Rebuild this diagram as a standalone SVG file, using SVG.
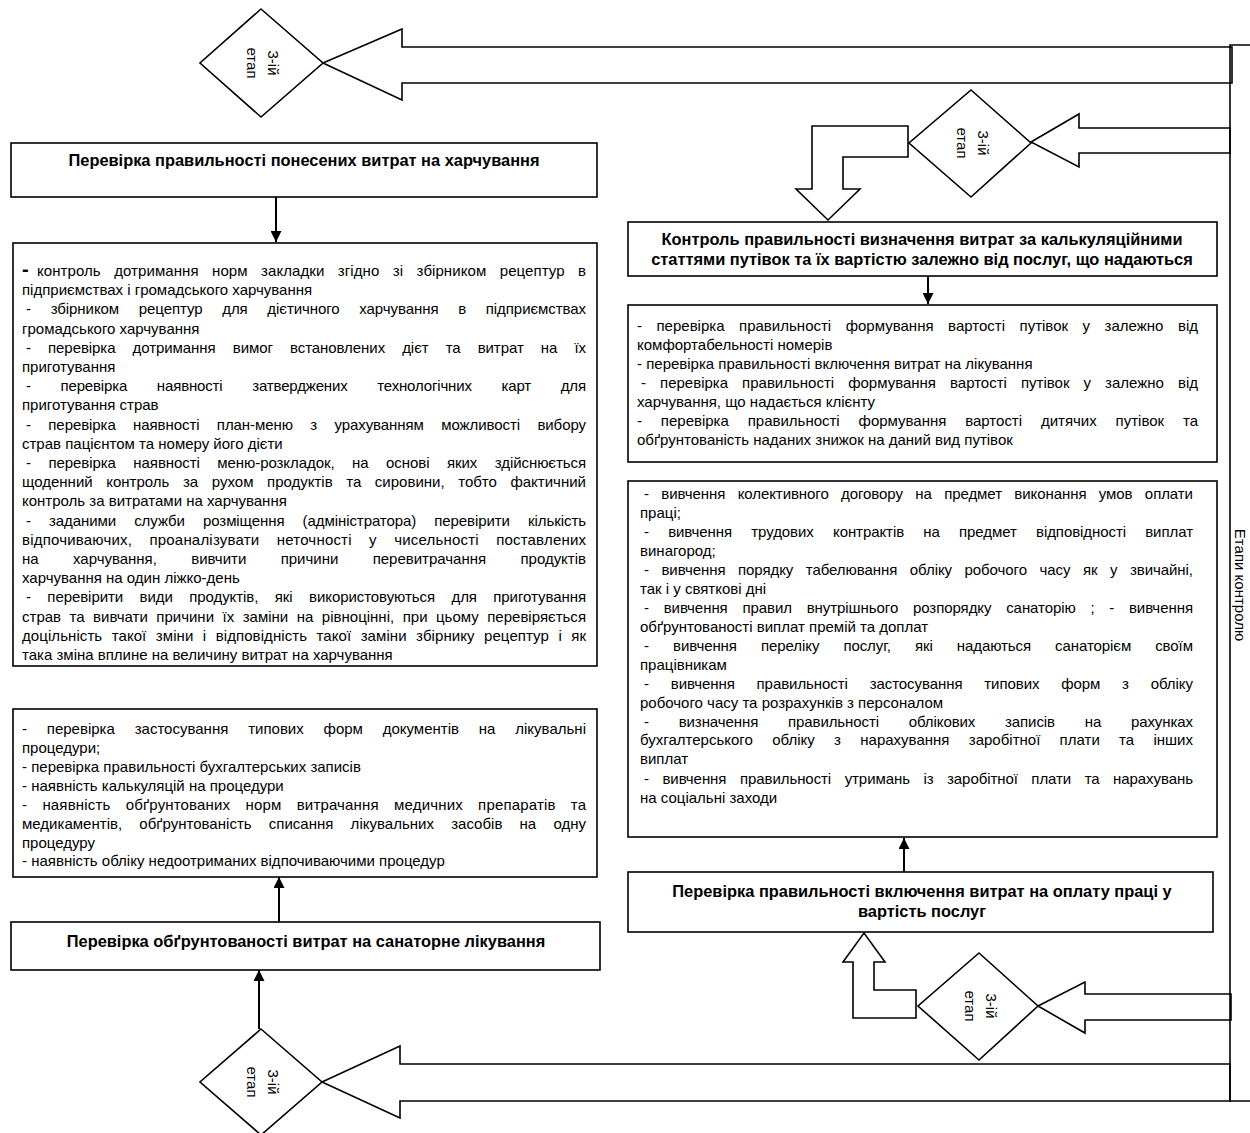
<svg xmlns="http://www.w3.org/2000/svg" width="1250" height="1133" viewBox="0 0 1250 1133" xml:space="preserve">
<style>
.box{fill:#fff;stroke:#000;stroke-width:1.6}
.blk{fill:#fff;stroke:#000;stroke-width:1.6;stroke-linejoin:miter}
.ln{stroke:#000;stroke-width:2;fill:none}
.t{font-family:"Liberation Sans",Arial,sans-serif;font-size:15px;fill:#000}
.b{font-weight:bold;font-size:16.4px}
.c{text-anchor:middle}
.d{font-family:"Liberation Sans",Arial,sans-serif;font-size:15px;fill:#000;text-anchor:middle;dominant-baseline:central}
</style>
<defs>
<marker id="ah" viewBox="0 0 10 10" refX="10" refY="5" markerWidth="11" markerHeight="11" markerUnits="userSpaceOnUse" orient="auto"><path d="M0,0 L10,5 L0,10 z" fill="#000"/></marker>
</defs>
<rect width="1250" height="1133" fill="#fff"/>

<g id="connectors">
<line class="ln" x1="276" y1="197" x2="276" y2="242" marker-end="url(#ah)"/>
<line class="ln" x1="928" y1="276" x2="928" y2="304" marker-end="url(#ah)"/>
<line class="ln" x1="904" y1="872" x2="904" y2="838" marker-end="url(#ah)"/>
<line class="ln" x1="279" y1="922" x2="279" y2="877" marker-end="url(#ah)"/>
<line class="ln" x1="259" y1="1029" x2="259" y2="970" marker-end="url(#ah)"/>
<polygon class="blk" points="323,63 402,29 402,47 1232,47 1232,83 402,83 402,100"/>
<polygon class="blk" points="1031,142 1079,114 1079,128 1230,128 1230,153 1079,153 1079,167"/>
<polygon class="blk" points="908,126 812,126 812,189 796,189 828,220 860,189 843,189 843,157 908,157"/>
<polygon class="blk" points="1038,1006 1085,982 1085,994 1231,994 1231,1020 1085,1020 1085,1033"/>
<polygon class="blk" points="916,990 874,990 874,962 885,962 864,933 843,962 853,962 853,1018 916,1018"/>
<polygon class="blk" points="322,1082 400,1046 400,1064 1230,1064 1230,1101 400,1101 400,1118"/>
<path class="ln" style="stroke-width:1.6" d="M1250,45 H1230 V1101 H1250"/>
</g>

<g id="stage-label">
<text class="t" transform="translate(1240,585) rotate(90)" text-anchor="middle" dominant-baseline="central">Етапи контролю</text>
</g>

<g id="diamond-tl">
<polygon class="box" points="261,9 323,63 261,117 200,63"/>
<g transform="translate(262,63) rotate(90)"><text class="d" x="0" y="-11">3-ій</text><text class="d" x="0" y="10">етап</text></g>
</g>
<g id="diamond-tr">
<polygon class="box" points="971,90 1031,143 971,197 909,143"/>
<g transform="translate(972,143) rotate(90)"><text class="d" x="0" y="-11">3-ій</text><text class="d" x="0" y="10">етап</text></g>
</g>
<g id="diamond-br">
<polygon class="box" points="979,953 1038,1006 979,1060 918,1006"/>
<g transform="translate(980,1006) rotate(90)"><text class="d" x="0" y="-11">3-ій</text><text class="d" x="0" y="10">етап</text></g>
</g>
<g id="diamond-bl">
<polygon class="box" points="261,1029 322,1082 261,1135 200,1082"/>
<g transform="translate(262,1082) rotate(90)"><text class="d" x="0" y="-11">3-ій</text><text class="d" x="0" y="10">етап</text></g>
</g>

<g id="box-food-head">
<rect class="box" x="11" y="143" width="586" height="54"/>
<text class="t b c" x="304" y="166">Перевірка правильності понесених витрат на  харчування</text>
</g>

<g id="box-food-list">
<rect class="box" x="13" y="243" width="584" height="423"/>
<text class="t" x="22" y="276" style="font-size:20px;font-weight:bold">-</text>
<text class="t" x="37" y="276" textLength="549" style="word-spacing:9.2px">контроль дотримання норм закладки  згідно зі збірником рецептур в</text>
<text class="t" x="22" y="295">підприємствах і громадського харчування</text>
<text class="t" x="26" y="314" textLength="560" style="word-spacing:15.6px">- збірником рецептур для дієтичного харчування в підприємствах</text>
<text class="t" x="22" y="334">громадського харчування</text>
<text class="t" x="26" y="353" textLength="560" style="word-spacing:13px">- перевірка дотримання вимог встановлених дієт та витрат на їх</text>
<text class="t" x="22" y="372">приготування</text>
<text class="t" x="26" y="391" textLength="560" style="word-spacing:25.7px">- перевірка наявності затверджених технологічних карт для</text>
<text class="t" x="22" y="410">приготування страв</text>
<text class="t" x="26" y="430" textLength="560" style="word-spacing:13.3px">- перевірка наявності план-меню з урахуванням можливості вибору</text>
<text class="t" x="22" y="449">страв пацієнтом та  номеру його дієти</text>
<text class="t" x="26" y="468" textLength="560" style="word-spacing:13.4px">- перевірка наявності меню-розкладок, на основі яких здійснюється</text>
<text class="t" x="22" y="487" textLength="564" style="word-spacing:9.4px">щоденний контроль за рухом продуктів та сировини, тобто фактичний</text>
<text class="t" x="22" y="506">контроль за витратами на харчування</text>
<text class="t" x="26" y="526" textLength="560" style="word-spacing:14px">- заданими служби розміщення (адміністратора) перевірити кількість</text>
<text class="t" x="22" y="545" textLength="564" style="word-spacing:13px">відпочиваючих,  проаналізувати неточності у чисельності поставлених</text>
<text class="t" x="22" y="564" textLength="564" style="word-spacing:30.2px">на харчування, вивчити причини перевитрачання продуктів</text>
<text class="t" x="22" y="583">харчування на один ліжко-день</text>
<text class="t" x="26" y="602" textLength="560" style="word-spacing:12.3px">- перевірити види продуктів, які використовуються для приготування</text>
<text class="t" x="22" y="622" textLength="564" style="word-spacing:4.3px">страв та вивчати причини їх заміни на рівноцінні, при цьому перевіряється</text>
<text class="t" x="22" y="641" textLength="564" style="word-spacing:5.2px">доцільність такої зміни і відповідність такої заміни збірнику рецептур і як</text>
<text class="t" x="22" y="660">така зміна вплине на величину витрат на харчування</text>
</g>

<g id="box-treat-list">
<rect class="box" x="13" y="709" width="584" height="168"/>
<text class="t" x="22" y="734" textLength="564" style="word-spacing:15.6px">- перевірка застосування типових форм документів на лікувальні</text>
<text class="t" x="22" y="753">процедури;</text>
<text class="t" x="22" y="772">- перевірка правильності бухгалтерських записів</text>
<text class="t" x="22" y="791">- наявність калькуляцій на процедури</text>
<text class="t" x="22" y="810" textLength="564" style="word-spacing:10.9px">- наявність обґрунтованих норм витрачання медичних препаратів та</text>
<text class="t" x="22" y="829" textLength="564" style="word-spacing:13px">медикаментів, обґрунтованість списання лікувальних засобів на одну</text>
<text class="t" x="22" y="848">процедуру</text>
<text class="t" x="22" y="866">- наявність обліку недоотриманих відпочиваючими процедур</text>
</g>

<g id="box-treat-head">
<rect class="box" x="11" y="922" width="589" height="48"/>
<text class="t b c" x="306" y="947">Перевірка обґрунтованості витрат на санаторне лікування</text>
</g>

<g id="box-calc-head">
<rect class="box" x="628" y="222" width="589" height="54"/>
<text class="t b c" x="922" y="245">Контроль правильності визначення витрат за калькуляційними</text>
<text class="t b c" x="922" y="265">статтями путівок та їх вартістю залежно від послуг, що надаються</text>
</g>

<g id="box-calc-list">
<rect class="box" x="628" y="305" width="589" height="157"/>
<text class="t" x="637" y="331" textLength="561" style="word-spacing:10.3px">- перевірка правильності формування вартості путівок у залежно від</text>
<text class="t" x="637" y="350">комфортабельності номерів</text>
<text class="t" x="637" y="369">- перевірка правильності включення витрат на лікування</text>
<text class="t" x="641" y="388" textLength="557" style="word-spacing:9.9px">- перевірка правильності формування вартості путівок у залежно від</text>
<text class="t" x="637" y="407">харчування, що надається клієнту</text>
<text class="t" x="637" y="426" textLength="561" style="word-spacing:14.7px">- перевірка правильності формування вартості дитячих путівок та</text>
<text class="t" x="637" y="445">обґрунтованість наданих знижок на даний вид путівок</text>
</g>

<g id="box-pay-list">
<rect class="box" x="628" y="481" width="589" height="356"/>
<text class="t" x="644" y="499" textLength="549" style="word-spacing:8.3px">- вивчення колективного договору на предмет виконання умов оплати</text>
<text class="t" x="640" y="518">праці;</text>
<text class="t" x="644" y="537" textLength="549" style="word-spacing:15.1px">- вивчення трудових контрактів на предмет відповідності виплат</text>
<text class="t" x="640" y="556">винагород;</text>
<text class="t" x="644" y="575" textLength="549" style="word-spacing:8.4px">- вивчення порядку табелювання обліку робочого часу як у звичайні,</text>
<text class="t" x="640" y="594">так і у святкові дні</text>
<text class="t" x="644" y="613" textLength="549" style="word-spacing:10.6px">- вивчення правил внутрішнього розпорядку санаторію ; - вивчення</text>
<text class="t" x="640" y="632">обґрунтованості виплат премій та доплат</text>
<text class="t" x="644" y="651" textLength="549" style="word-spacing:20px">- вивчення переліку послуг, які надаються санаторієм своїм</text>
<text class="t" x="640" y="670">працівникам</text>
<text class="t" x="644" y="689" textLength="549" style="word-spacing:17.7px">- вивчення правильності застосування типових форм з обліку</text>
<text class="t" x="640" y="708">робочого часу та розрахунків з персоналом</text>
<text class="t" x="644" y="727" textLength="549" style="word-spacing:25.7px">- визначення правильності облікових записів на рахунках</text>
<text class="t" x="640" y="745" textLength="553" style="word-spacing:15.1px">бухгалтерського обліку з нарахування заробітної плати та інших</text>
<text class="t" x="640" y="764">виплат</text>
<text class="t" x="644" y="784" textLength="549" style="word-spacing:9.4px">- вивчення правильності утримань із заробітної плати та нарахувань</text>
<text class="t" x="640" y="803">на соціальні заходи</text>
</g>

<g id="box-pay-head">
<rect class="box" x="628" y="872" width="585" height="60"/>
<text class="t b c" x="922" y="897">Перевірка правильності включення витрат на оплату праці у</text>
<text class="t b c" x="922" y="917">вартість послуг</text>
</g>
</svg>
